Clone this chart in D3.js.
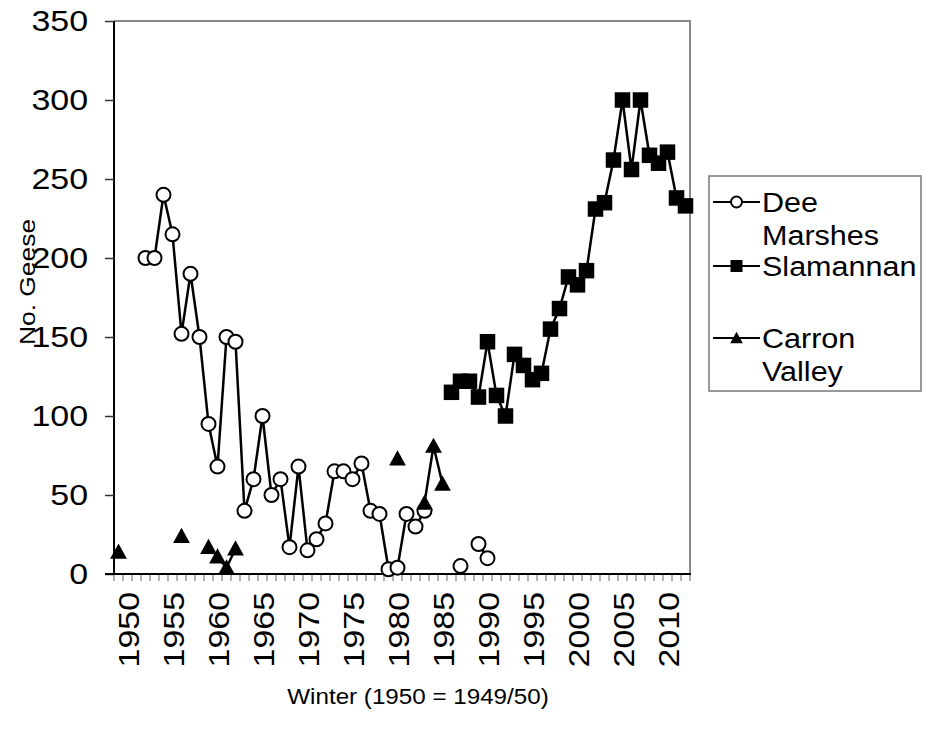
<!DOCTYPE html>
<html>
<head>
<meta charset="utf-8">
<script src="https://cdn.jsdelivr.net/npm/d3@7"></script>
<style>
  html, body { margin: 0; padding: 0; background: #fff; }
  svg { display: block; font-family: "Liberation Sans", Arial, sans-serif; }
</style>
</head>
<body>
<svg id="chart" width="934" height="740"></svg>
<script>
// ---- Data (winters, 1950 = 1949/50) ----
const years = d3.range(1950, 2014);
const yTicks = [0, 50, 100, 150, 200, 250, 300, 350];
const xTickLabels = [1950, 1955, 1960, 1965, 1970, 1975, 1980, 1985, 1990, 1995, 2000, 2005, 2010];

const deeYears   = [1953,1954,1955,1956,1957,1958,1959,1960,1961,1962,1963,1964,1965,1966,1967,1968,1969,1970,1971,1972,1973,1974,1975,1976,1977,1978,1979,1980,1981,1982,1983,1984,1988,1990,1991];
const deeValues  = [200, 200, 240, 215, 152, 190, 150, 95,  68,  150, 147, 40,  60,  100, 50,  60,  17,  68,  15,  22,  32,  65,  65,  60,  70,  40,  38,  3,   4,   38,  30,  40,  5,   19,  10];

const slamYears  = [1987,1988,1989,1990,1991,1992,1993,1994,1995,1996,1997,1998,1999,2000,2001,2002,2003,2004,2005,2006,2007,2008,2009,2010,2011,2012,2013];
const slamValues = [115, 122, 122, 112, 147, 113, 100, 139, 132, 123, 127, 155, 168, 188, 183, 192, 231, 235, 262, 300, 256, 300, 265, 260, 267, 238, 233];

const carronYears  = [1950,1957,1960,1961,1962,1963,1981,1984,1985,1986];
const carronValues = [14,  24,  17,  11,  4,   16,  73,  45,  81,  57];

const seriesNames = ["Dee Marshes", "Slamannan", "Carron Valley"];

function fill(ys, vs) {
  const m = new Map(ys.map((y, i) => [y, vs[i]]));
  return years.map(y => ({ year: y, value: m.has(y) ? m.get(y) : null }));
}
const series = [
  { name: seriesNames[0], lines: ["Dee", "Marshes"],  marker: "circle",   data: fill(deeYears, deeValues) },
  { name: seriesNames[1], lines: ["Slamannan"],       marker: "square",   data: fill(slamYears, slamValues) },
  { name: seriesNames[2], lines: ["Carron", "Valley"], marker: "triangle", data: fill(carronYears, carronValues) }
];

// ---- Layout ----
const svg = d3.select("#chart");
const plot = { left: 114, right: 690, top: 21, bottom: 574 };
const FS = 29, SX = 1.17;   // tick-label font size and horizontal stretch

const x = d3.scaleLinear().domain([1949.5, 2013.5]).range([plot.left, plot.right]);
const y = d3.scaleLinear().domain([0, 350]).range([plot.bottom, plot.top]);

// plot border (top & right grey)
svg.append("path")
  .attr("d", `M${plot.left},${plot.top}H${plot.right}V${plot.bottom}`)
  .attr("fill", "none").attr("stroke", "#888").attr("stroke-width", 2);

// minor category ticks (grey) below x axis
const boundaries = d3.range(1949.5, 2014, 1);
svg.append("g").selectAll("line").data(boundaries).join("line")
  .attr("x1", d => x(d)).attr("x2", d => x(d))
  .attr("y1", plot.bottom).attr("y2", plot.bottom + 7)
  .attr("stroke", "#999").attr("stroke-width", 1.5);

// Y axis (ticks via d3 axis, labels drawn stretched)
const yAxis = d3.axisLeft(y).tickValues(yTicks).tickSize(9).tickFormat("");
const gy = svg.append("g").attr("transform", `translate(${plot.left},0)`).call(yAxis);
gy.select(".domain").attr("stroke", "#000").attr("stroke-width", 2).attr("d", `M0,${plot.top}V${plot.bottom}`);
gy.selectAll(".tick line").attr("stroke", "#333").attr("stroke-width", 1.5);
svg.append("g").selectAll("text").data(yTicks).join("text")
  .attr("transform", d => `translate(88,${y(d)}) scale(${SX},1)`)
  .attr("text-anchor", "end").attr("dy", "0.36em")
  .attr("font-size", FS).attr("fill", "#000")
  .text(d => d);

// X axis line
svg.append("line")
  .attr("x1", plot.left - 9).attr("x2", plot.right + 1)
  .attr("y1", plot.bottom).attr("y2", plot.bottom)
  .attr("stroke", "#000").attr("stroke-width", 2);

// X tick labels (rotated)
svg.append("g").selectAll("text").data(xTickLabels).join("text")
  .attr("transform", d => `translate(${x(d) + 20},592) rotate(-90) scale(${SX},1)`)
  .attr("text-anchor", "end")
  .attr("font-size", FS)
  .attr("fill", "#000")
  .text(d => d);

// Axis titles
svg.append("text")
  .attr("transform", "translate(418,704) scale(1.1,1)")
  .attr("text-anchor", "middle").attr("font-size", 22)
  .text("Winter (1950 = 1949/50)");
svg.append("text")
  .attr("transform", "translate(35,282) rotate(-90) scale(1.2,1)")
  .attr("text-anchor", "middle").attr("font-size", 22)
  .text("No. Geese");

// markers
function drawMarker(g, type, size) {
  if (type === "circle") {
    g.append("circle").attr("r", size * 0.5).attr("fill", "#fff").attr("stroke", "#000").attr("stroke-width", 2);
  } else if (type === "square") {
    g.append("rect").attr("x", -size / 2).attr("y", -size / 2).attr("width", size).attr("height", size).attr("fill", "#000");
  } else {
    const h = size * 0.95, w = size * 1.05;
    g.append("path").attr("d", `M0,${-h * 0.55}L${w / 2},${h * 0.45}L${-w / 2},${h * 0.45}Z`).attr("fill", "#000");
  }
}
const msize = { circle: 14, square: 15.5, triangle: 16 };

const line = d3.line().defined(d => d.value !== null).x(d => x(d.year)).y(d => y(d.value));

series.forEach(s => {
  const g = svg.append("g");
  g.append("path").datum(s.data).attr("d", line)
    .attr("fill", "none").attr("stroke", "#000").attr("stroke-width", 2.5);
  g.selectAll("g.m").data(s.data.filter(d => d.value !== null)).join("g")
    .attr("class", "m")
    .attr("transform", d => `translate(${x(d.year)},${y(d.value)})`)
    .each(function () { drawMarker(d3.select(this), s.marker, msize[s.marker]); });
});

// Legend
const legend = svg.append("g");
legend.append("rect").attr("x", 709).attr("y", 176).attr("width", 212).attr("height", 215)
  .attr("fill", "#fff").attr("stroke", "#777").attr("stroke-width", 1.5);
const rowY = [202, 266, 338];
const lsize = { circle: 11, square: 12, triangle: 12 };
series.forEach((s, i) => {
  const cy = rowY[i];
  legend.append("line").attr("x1", 713).attr("x2", 760).attr("y1", cy).attr("y2", cy)
    .attr("stroke", "#000").attr("stroke-width", 2);
  const mg = legend.append("g").attr("transform", `translate(736.5,${cy})`);
  drawMarker(mg, s.marker, lsize[s.marker]);
  s.lines.forEach((t, j) => {
    legend.append("text").attr("transform", `translate(762,${cy + j * 33}) scale(1.11,1)`)
      .attr("dy", "0.36em")
      .attr("font-size", 27.5).attr("fill", "#000").text(t);
  });
});
</script>
</body>
</html>
